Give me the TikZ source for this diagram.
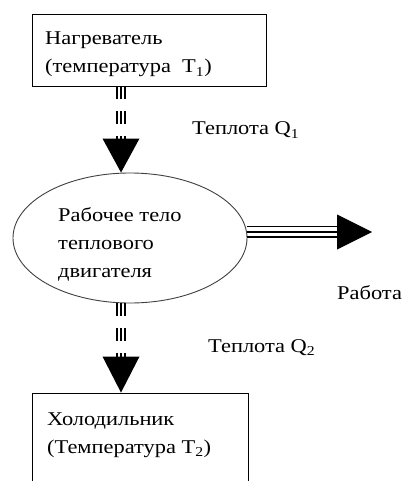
\documentclass[tikz,border=0pt]{standalone}
\usepackage{fontspec}
\setmainfont{Liberation Serif}
\newfontfamily\diagfont[FakeStretch=1.15]{Liberation Serif}
\usetikzlibrary{shapes.geometric,calc}
\begin{document}
\begin{tikzpicture}[x=1pt,y=-1pt,
  txt/.style={font=\diagfont\fontsize{19.5}{28}\selectfont, inner sep=0pt, anchor=base west, align=left},
  boxshape/.style={draw=black, line width=0.9pt, inner sep=0pt},
  stripe/.style={line width=2pt, dash pattern=on 13pt off 12pt},
  head/.style={fill=black, draw=none}]
\useasboundingbox (0,0) rectangle (406,481);
\clip (0,0) rectangle (406,481);
\fill[white] (0,0) rectangle (406,481);
% nodes
\node[boxshape, minimum width=234pt, minimum height=72pt] (heater) at (149,50) {};
\node[txt] (heatertxt) at (45,73) {Нагреватель\\(температура\ \ T\textsubscript{1})};
\node[draw=black!75, line width=0.9pt, ellipse, minimum width=234pt, minimum height=130pt, inner sep=0pt] (body) at (130,238) {};
\node[txt] (bodytxt) at (58,277) {Рабочее тело\\теплового\\двигателя};
\node[boxshape, minimum width=216pt, minimum height=140pt] (cooler) at (140,463) {};
\node[txt] (coolertxt) at (47,453) {Холодильник\\(Температура T\textsubscript{2})};
\node[txt] (q1) at (192,135) {Теплота Q\textsubscript{1}};
\node[txt] (q2) at (208,352) {Теплота Q\textsubscript{2}};
\node[txt] (work) at (337,299) {Работа};
% arrow axis
\coordinate (ax) at (121,0);
\coordinate (ay) at (0,232);
% top arrow
\coordinate (t1) at (heater.south -| ax);
\coordinate (t2) at (ax |- body.north);
\foreach \dx in {-4,0,4}
  \draw[stripe] ($(t1)+(\dx,0)$) -- ($(t2)+(\dx,-30)$);
\fill[head] (t2) -- ++(-18.5,-34) -- ++(37,0) -- cycle;
% bottom arrow
\coordinate (b1) at (ax |- body.south);
\coordinate (b2) at (cooler.north -| ax);
\foreach \dx in {-4,0,4}
  \draw[stripe] ($(b1)+(\dx,0)$) -- ($(b2)+(\dx,-33)$);
\fill[head] (b2) -- ++(-18.5,-36) -- ++(37,0) -- cycle;
% right arrow
\coordinate (r1) at (body.east |- ay);
\coordinate (r2) at (372,232);
\draw[line width=1.3pt] ($(r1)+(0,-5.5)$) -- ($(r2)+(-35,-5.5)$);
\draw[line width=2.4pt] (r1) -- ($(r2)+(-35,0)$);
\draw[line width=1.3pt] ($(r1)+(0,5)$) -- ($(r2)+(-35,5)$);
\fill[head] (r2) -- ++(-35,-17.5) -- ++(0,35) -- cycle;
\end{tikzpicture}
\end{document}
